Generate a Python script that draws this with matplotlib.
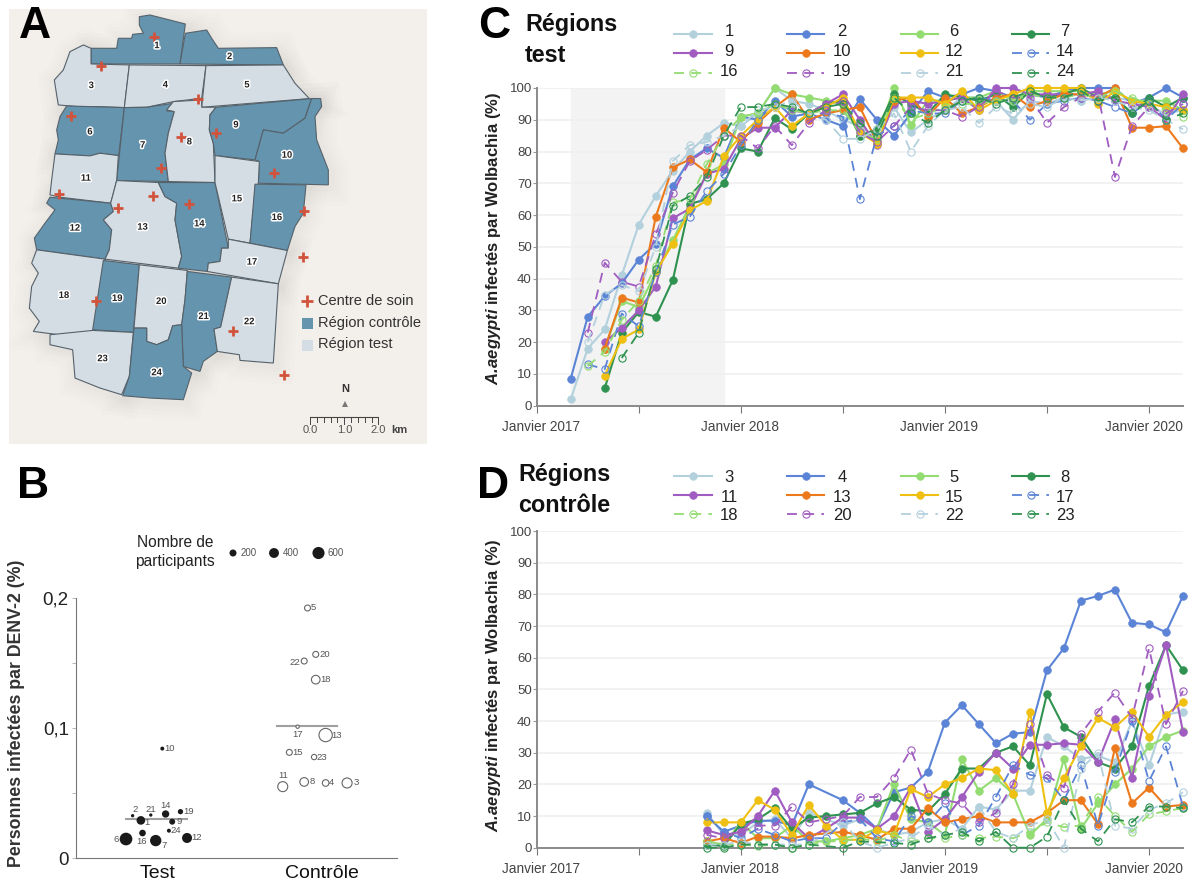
"""Figure 4 panneaux : carte, participants DENV-2, Wolbachia test / controle"""

import numpy as np
import matplotlib
matplotlib.use('Agg')
import matplotlib.pyplot as plt
from matplotlib.patches import Polygon, Rectangle
from matplotlib.transforms import ScaledTranslation
import matplotlib.patheffects as pe

plt.rcParams['font.family'] = ['Liberation Sans', 'DejaVu Sans']
plt.rcParams['mathtext.fontset'] = 'custom'
plt.rcParams['mathtext.bfit'] = 'Liberation Sans:italic:bold'
plt.rcParams['mathtext.rm'] = 'Liberation Sans'

W, H = 1190, 882

# ---- Panneau A : regions de la carte (contours)
region_shapes = {
    1: [(418, 50), (450, 45), (556, 72), (540, 192), (273, 192), (273, 145), (350, 145), (355, 115), (395, 115),
        (398, 103), (430, 100), (418, 75)],
    2: [(556, 100), (620, 90), (635, 115), (655, 145), (830, 143), (850, 195), (540, 192)],
    3: [(250, 135), (273, 145), (273, 192), (388, 195), (373, 323), (290, 320), (230, 320), (175, 315), (170, 285),
        (163, 240), (190, 210), (210, 155)],
    4: [(388, 195), (618, 197), (605, 295), (520, 305), (440, 322), (373, 323)],
    5: [(618, 197), (850, 195), (885, 250), (928, 296), (605, 322)],
    6: [(200, 318), (373, 323), (356, 467), (300, 460), (270, 468), (165, 462), (175, 420), (170, 390), (180, 350)],
    7: [(373, 323), (440, 322), (520, 310), (500, 333), (523, 335), (505, 400), (495, 460), (505, 545), (350, 542)],
    8: [(520, 305), (605, 300), (605, 322), (648, 322), (630, 345), (628, 390), (640, 430), (645, 548), (505, 545),
        (495, 460), (505, 400), (523, 335), (500, 330)],
    9: [(648, 322), (935, 296), (915, 355), (850, 400), (790, 390), (765, 480), (645, 467), (640, 430), (628, 390),
        (630, 345)],
    10: [(935, 296), (962, 296), (965, 320), (945, 350), (950, 420), (985, 510), (985, 555), (775, 550), (778, 485),
         (765, 480), (790, 390), (850, 400), (915, 355)],
    11: [(165, 462), (270, 468), (300, 460), (355, 467), (350, 542), (332, 610), (180, 592), (150, 585), (155, 540)],
    12: [(150, 592), (332, 610), (340, 635), (310, 660), (335, 690), (328, 750), (315, 778), (110, 750), (103, 715),
         (135, 670), (165, 630), (140, 610)],
    13: [(350, 542), (475, 548), (495, 590), (530, 610), (525, 660), (545, 770), (535, 805), (315, 778), (328, 750),
         (335, 690), (310, 660), (340, 635), (332, 610)],
    14: [(475, 548), (645, 548), (685, 745), (665, 745), (660, 785), (625, 790), (622, 815), (535, 805), (545, 770),
         (525, 660), (530, 610), (495, 590)],
    15: [(645, 467), (778, 485), (775, 550), (765, 580), (750, 730), (685, 718), (645, 548)],
    16: [(765, 553), (918, 555), (910, 640), (885, 680), (862, 752), (750, 730)],
    17: [(685, 718), (862, 752), (835, 852), (622, 815), (625, 790), (660, 785), (665, 745), (685, 745)],
    18: [(110, 750), (315, 778), (278, 1005), (200, 1008), (100, 995), (118, 965), (88, 925), (95, 860), (115, 820),
         (95, 790)],
    19: [(310, 782), (418, 795), (400, 998), (278, 990)],
    20: [(418, 795), (562, 812), (555, 900), (545, 975), (518, 978), (505, 1020), (470, 1035), (440, 1025), (440, 985),
         (402, 985)],
    21: [(562, 815), (695, 832), (662, 982), (642, 988), (652, 1055), (610, 1085), (600, 1115), (550, 1100), (545, 975),
         (555, 900)],
    22: [(695, 832), (835, 852), (820, 1090), (720, 1082), (718, 1065), (652, 1055), (642, 988), (662, 982)],
    23: [(150, 1005), (278, 992), (400, 998), (388, 1130), (365, 1185), (300, 1165), (225, 1135), (218, 1050),
         (150, 1035)],
    24: [(402, 985), (440, 985), (440, 1025), (470, 1035), (505, 1020), (518, 978), (545, 975), (550, 1100), (575, 1120),
         (550, 1200), (450, 1195), (368, 1188), (388, 1130)],
}
dark_regions = [1, 2, 6, 7, 9, 10, 12, 14, 16, 19, 21, 24]
region_label_xy = {1: (471, 137), 2: (689, 170), 3: (274, 257), 4: (496, 255), 5: (741, 255), 6: (270, 396),
                   7: (428, 436), 8: (568, 426), 9: (708, 375), 10: (861, 466), 11: (258, 535), 12: (225, 685),
                   13: (428, 682), 14: (598, 672), 15: (711, 597), 16: (831, 653), 17: (756, 787), 18: (192, 887),
                   19: (352, 896), 20: (484, 905), 21: (611, 950), 22: (748, 966), 23: (308, 1077), 24: (470, 1119)}
care_x = [463, 304, 593, 213, 648, 543, 483, 823, 178, 459, 566, 354, 912, 910, 287, 700, 852]
care_y = [112, 199, 298, 349, 398, 410, 503, 520, 583, 587, 613, 625, 633, 773, 904, 995, 1126]

# ---- Panneau B : pourcentage DENV-2 et participants
test_regions = [10, 2, 21, 14, 19, 1, 9, 24, 16, 6, 7, 12]
test_x = [0.03, -0.15, -0.04, 0.05, 0.14, -0.10, 0.09, 0.07, -0.09, -0.19, -0.01, 0.18]
test_denv = [0.0842, 0.0327, 0.0332, 0.0340, 0.0358, 0.0291, 0.0281, 0.0212, 0.0194, 0.0148, 0.0136, 0.0156]
test_n = [65, 45, 45, 220, 115, 305, 145, 65, 180, 655, 525, 410]
ctrl_regions = [5, 20, 22, 18, 17, 13, 15, 23, 11, 8, 4, 3]
ctrl_x = [0.91, 0.96, 0.89, 0.96, 0.85, 1.02, 0.80, 0.95, 0.76, 0.89, 1.02, 1.15]
ctrl_denv = [0.1921, 0.1565, 0.1514, 0.1371, 0.1010, 0.0946, 0.0813, 0.0777, 0.0550, 0.0586, 0.0578, 0.0578]
ctrl_n = [145, 145, 145, 305, 45, 725, 145, 115, 410, 305, 180, 410]
test_median = 0.0302
ctrl_median = 0.1018
legend_n = [200, 400, 600]

# ---- Panneaux C et D : mois depuis janvier 2017
months_c = list(range(2, 39))
months_d = list(range(10, 39))
N = None

test_series = {
    1: [2, 18, 24, 41, 57, 66, 74, 80, 85, 89, 88, 92, 100, 96, 95, 93, 90, 88, 84, 94, 86, 90, 93, 97, 97, 96, 90, 96,
        95, 97, 96, 97, 97, 96, 94, 92, 93],
    2: [8.5, 28, 34.5, 38.5, 46, 51, 69, 77.5, 81, 78, 91, 90, 96, 91, 92, 90, 88, 96.5, 90, 85, 92, 99, 97, 98, 100,
        99, 97, 98, 97, 99, 100, 100, 100, 95, 97, 100, 97],
    6: [N, N, 18, 33, 31, 42, 52, 63, 73, 76, 91, 92, 100, 98, 97, 96, 95, 85, 84, 100, 88.5, 96, 96, 97, 97, 99, 96,
        99, 99, 99, 99, 98, 99, 96, 96, 96, 93],
    7: [N, N, 5.5, 23, 29.5, 28, 39.5, 63.5, 65, 70, 81, 80, 90.5, 87, 92, 95, 96, 85, 87, 98, 95, 92, 98, 97, 96, 98,
        94, 99, 97, 98, 100, 97, 97, 92, 97, 94, 97],
    9: [N, N, 20, 24.5, 30, 37.5, 59, 62, 73, 74.5, 84, 87.5, 87.5, 93, 92, 95, 98, 90, 82, 95, 96, 95, 96, 97, 93, 100,
        100, 98, 98, 98, 98, 99, 96, 95, 94, 90, 98],
    10: [N, N, 18, 34, 32.5, 59.5, 75, 77.5, 73.5, 87.5, 83, 89, 94, 98, 90, 92, 93, 94, 83, 96, 97, 91, 97, 92, 94, 97,
         98, 94, 96, 98, 98, 97, 100, 87.5, 87.5, 88, 81],
    12: [N, N, 9.5, 21, 24, 42, 51, 61.5, 64.5, 78.5, 85, 90, 94, 88, 92, 94, 97, 86, 82.5, 97, 97, 97, 95, 99, 93, 96,
         98, 100, 100, 100, 100, 95, 99, 96, 95, 94, 93],
    14: [N, 13, 11.5, 29, 25, 42, 57, 59.5, 67.5, 73, 82, 90, 95, 93, 92, 92, 91, 65, 85, 88, 93, 92, 92, 96, 97, 96,
         96, 90, 95, 96, 97, 96, 94, 92, 96, 90, 95],
    16: [N, 12.5, 17, 27, 33, 44, 64, 65, 76, 85, 91, 92, 95, 93, 92, 93, 93, 86, 84, 97, 90, 92, 94, 95, 95, 96, 96,
         98, 97, 97, 98, 97, 99, 97, 95, 93, 91],
    19: [N, 23, 45, 39, 37.5, 54, 67, 77, 80.5, 85, 85, 81, 88, 82, 89, 93, 96, 86, 83, 88, 94, 93, 93, 91, 94, 99, 97,
         97, 89, 94, 97, 98, 72, 88, 94, 92, 95],
    21: [N, 20, 35, 38, 36, 50, 77, 82, 83, 85, 88, 93, 94, 96, 92, 90, 84, 84, 87, 92, 80, 88, 93, 94, 89, 94, 92, 95,
         94, 97, 96, 97, 96, 94, 93, 90, 87],
    24: [N, N, N, 15, 23, 43, 63, 66, 72, 85, 94, 94, 95, 94, 92, 94, 95, 89, 85, 97, 92, 89, 93, 96, 97, 95, 97, 99,
         97, 97, 99, 96, 97, 92, 96, 90, 92],
}
ctrl_series = {
    3: [11, 4, 4, 8, 9, 3, 11, N, 7, 9, 6, 4, 5, 8, 9, 6, 13, 12, 18, 18, 35, 32, 28, 29, 27, 40, 26, 42, 43],
    4: [10, 5, 7, 8.5, 8.5, 7, 20, N, 15, 11, 6, 17.5, 19, 24, 39.5, 45, 39, 33, 36, 36.5, 56, 63, 78, 79.5, 81.5, 71,
        70.5, 68, 79.5],
    5: [2, 1, 8, 3, 3, 7, 2, 2, 3, 4, 6, 20, 9, 8, 4, 28, 18, 22, 17, 4, 9, 28, 6, 14, 20, 25, 32, 35, 37],
    8: [1, 0.5, 7.5, 9, 12.5, 6, 9.5, 10, 10.5, 11, 14, 16, 12, 11.5, 17, 25, 25, 30, 32, 26, 48.5, 38, 35, 27, 25, 32,
        51, 64, 56],
    11: [5.5, 4, 5, 10, 18, 8, 3, 6, 9.5, 9.5, 6, 10, 19, 5, 9, 16, 24, 30, 25, 32.5, 32.5, 33, 32.5, 27, 40.5, 22, 48,
         64, 36.5],
    13: [2, 3, 1.5, 3.5, 3.5, 3, 4, N, 5, 4, 2.5, 6, 6, 12.5, 8, 9, 10, 8, 8, 8, 11, 15, 15, 7.5, 31.5, 14, 19, 13, 13.5],
    15: [8, 8, 8, 15, 12, 4, 13.5, 7, 2.5, 2.5, 5.5, 4, 18.5, 16, 20, 22, 25, 24.5, 17, 43, 11, 22, 32, 41, 38, 43, 35,
         42, 46],
    17: [10, 5, 3, 6, 4, 2, 3, 3, 8, 9, 3, 2, 10, 8, 14, 4, 7, 16, 26, 23, 22, 15, 26, 7, 24, 40, 21, 32, 13],
    18: [2, 1, 1, 0.5, 1, 0, 1, 2, 2, 3, 2, 4, 2, 3, 3, 4, 3, 3.5, 3, 5, 8, 6.5, 7, 16, 10, 5, 10.5, 11.5, 12.5],
    20: [4, 3, 5, 7, 7, 13, 8, 9, 10, 16, 16, 22, 31, 17, 15, 14, 8, 11, 20, 39, 23, 19, 36, 43, 49, 41, 63, 39, 49.5],
    22: [1, 1, 2, 1, 1, 1, 1, N, 8, 2, 0, 1.5, 3, 7, 4, 6, 13, 5, 3, 7, 9, 0, 25, 30, 7, 6, 12, 14, 17.5],
    23: [0, 0, 1, 1, 1, 0, 1, N, 0, 2, N, 1.5, 1, 3, 4, 5, 2, 5, 0, 0, 3.5, 15, 6, 2, 9, 8, 13, 13, 12.5],
}
year_labels = ['Janvier 2017', 'Janvier 2018', 'Janvier 2019', 'Janvier 2020']

light_blue = '#b3d0dd'
blue = '#5b84d6'
light_green = '#93dc72'
dark_green = '#2f9250'
purple = '#a05cc0'
orange = '#ec7a1c'
yellow = '#efc011'
palette = [light_blue, blue, light_green, dark_green, purple, orange, yellow, blue, light_green, purple, light_blue,
           dark_green]
dashed_from = 7  # les 5 dernieres series sont en tirets


def axes_px(x0, y0, x1, y1, **kw):
    """Axes placee en pixels de l'image (origine en haut a gauche)"""
    return fig.add_axes([x0 / W, 1 - y1 / H, (x1 - x0) / W, (y1 - y0) / H], **kw)


def style_kw(i):
    c = palette[i]
    if i >= dashed_from:
        return dict(color=c, linestyle=(0, (5.5, 4)), linewidth=1.3, marker='o', markersize=5.2,
                    markerfacecolor='none', markeredgewidth=0.8)
    return dict(color=c, linestyle='-', linewidth=1.5, marker='o', markersize=5.6, markeredgewidth=0.4)


fig = plt.figure(figsize=(W / 100, H / 100), dpi=100, facecolor='white')

# ---------------- A
axA = axes_px(9, 9, 427, 444)
axA.set_xlim(27, 1281)
axA.set_ylim(1333, 27)
axA.axis('off')
axA.add_patch(Rectangle((27, 27), 1254, 1306, facecolor='#f3efeb', edgecolor='none'))
for lw in (26, 20, 14, 9, 5):
    for pts in region_shapes.values():
        shifted = [(x + 8, y + 8) for x, y in pts]
        axA.add_patch(Polygon(shifted, facecolor='none', edgecolor='#6e6a66', linewidth=lw, alpha=0.012))
for reg, pts in region_shapes.items():
    color = '#6594ae' if reg in dark_regions else '#d4dce4'
    axA.add_patch(Polygon(pts, facecolor=color, edgecolor='#55626b', linewidth=0.8))
for reg, (x, y) in region_label_xy.items():
    axA.text(x, y, str(reg), ha='center', va='center', fontsize=6.8, fontweight='bold', color='#222222',
             path_effects=[pe.withStroke(linewidth=2.2, foreground='white')])
axA.plot(care_x, care_y, linestyle='none', marker='+', markersize=7, color='#d2533c', markeredgewidth=2)
axA.plot([922], [904], linestyle='none', marker='+', markersize=8, color='#d2533c', markeredgewidth=2)
axA.add_patch(Rectangle((906, 954), 33, 33, facecolor='#6594ae'))
axA.add_patch(Rectangle((906, 1020), 33, 33, facecolor='#d4dce4'))
for y, txt in zip([904, 970, 1034], ['Centre de soin', 'Région contrôle', 'Région test']):
    axA.text(955, y, txt, va='center', fontsize=10.5, color='#333333')
# echelle
axA.plot([930, 1135], [1252, 1252], color='#444444', linewidth=0.8)
for i, x in enumerate(np.arange(930, 1136, 20.5)):
    axA.plot([x, x], [1252, 1272 if i % 5 == 0 else 1266], color='#444444', linewidth=0.7)
for x, txt in zip([932, 1034, 1135], ['0.0', '1.0', '2.0']):
    axA.text(x, 1291, txt, ha='center', va='center', fontsize=8, color='#555555')
axA.text(1199, 1291, 'km', ha='center', va='center', fontsize=8, fontweight='bold', color='#444444')
axA.text(1036, 1168, 'N', ha='center', va='center', fontsize=8, fontweight='bold', color='#333333')
axA.plot([1036], [1212], marker='^', markersize=5, color='#777777', markeredgewidth=0)

# ---------------- B (x : 0 = Test, 1 = Controle)
axB = axes_px(75.7, 597.7, 397, 858.3)
axB.set_ylim(0, 0.2)
axB.set_xlim((227 - 472) / 495, (1191 - 472) / 495)
axB.patch.set_alpha(0)
for s in ('top', 'right'):
    axB.spines[s].set_visible(False)
for s in ('left', 'bottom'):
    axB.spines[s].set_color('#777777')
    axB.spines[s].set_linewidth(0.8)
axB.set_yticks([0, 0.05, 0.1, 0.15, 0.2], ['0', '', '0,1', '', '0,2'], fontsize=13.5, color='#222222')
axB.set_xticks([0, 1], ['Test', 'Contrôle'], fontsize=14, color='#111111')
axB.tick_params(axis='x', length=0, pad=5)
axB.tick_params(axis='y', length=3, width=0.6, color='#aaaaaa', pad=2)
axB.set_ylabel('Personnes infectées par DENV-2 (%)', fontsize=12.8, fontweight='bold', color='#333333', labelpad=0)
axB.yaxis.set_label_coords(-0.158, 0.557)
axB.plot([-0.19, 0.178], [test_median, test_median], color='#a0a0a0', linewidth=1.5, zorder=1)
axB.plot([0.723, 1.09], [ctrl_median, ctrl_median], color='#a0a0a0', linewidth=1.5, zorder=1)
axB.scatter(test_x, test_denv, s=np.array(test_n) * 0.127, color='#1a1a1a', zorder=3, linewidths=0)
axB.scatter(ctrl_x, ctrl_denv, s=np.array(ctrl_n) * 0.127, facecolor='white', edgecolor='#666666', linewidths=0.8,
            zorder=3)
test_off = {10: (7, 0), 2: (3, 6), 21: (0, 6), 14: (0, 8), 19: (8, 0), 1: (6, -2), 9: (7, 0), 24: (7, 0), 16: (-1, -8),
            6: (-10, 0), 7: (8, -5), 12: (10, 0)}
ctrl_off = {5: (6, 0), 20: (9, 0), 22: (-9, -1), 18: (10, 0), 17: (0, -8), 13: (11, 0), 15: (8, 0), 23: (8, 0),
            11: (0, 11), 8: (8, 0), 4: (6, 0), 3: (9, 0)}
for regs, xs, ys, off in [(test_regions, test_x, test_denv, test_off), (ctrl_regions, ctrl_x, ctrl_denv, ctrl_off)]:
    for reg, x, y in zip(regs, xs, ys):
        axB.annotate(str(reg), (x, y), xytext=off[reg], textcoords='offset pixels', ha='center', va='center',
                     fontsize=6.8, color='#555555', zorder=4)

# ---------------- C et D
for series, months, box, band, label_y in [
    (test_series, months_c, (536.7, 88, 1183, 405.7), True, 0.525),
    (ctrl_series, months_d, (536.7, 531, 1183, 847.7), False, 0.513),
]:
    ax = axes_px(*box)
    ax.set_xlim(0, 38)
    ax.set_ylim(0, 100)
    ax.patch.set_alpha(0)
    for s in ('top', 'right'):
        ax.spines[s].set_visible(False)
    for s in ('left', 'bottom'):
        ax.spines[s].set_color('#8a8a8a')
        ax.spines[s].set_linewidth(1.4)
    if band:
        ax.axvspan(2, 11, color='#f3f3f3', zorder=0)
    ax.grid(axis='y', color='#f0f0f0', linewidth=1.2, zorder=0)
    ax.set_axisbelow(True)
    ax.set_yticks(range(0, 101, 10))
    ax.tick_params(axis='y', length=3, width=0.8, color='#999999', labelsize=9.5, labelcolor='#444444', pad=0.5)
    ax.set_xticks(range(0, 37, 6), [year_labels[0], '', year_labels[1], '', year_labels[2], '', year_labels[3]])
    ax.tick_params(axis='x', length=5, width=0.8, color='#777777', labelsize=9.8, labelcolor='#444444', pad=5)
    shifts = {0: 4, 2: -1, 4: -6, 6: -5}
    for k, lab in enumerate(ax.get_xticklabels()):
        if k in shifts:
            lab.set_transform(lab.get_transform() + ScaledTranslation(shifts[k] / 100, 0, fig.dpi_scale_trans))
    ax.set_ylabel(r'$\mathbfit{A.\!aegypti}$ infectés par Wolbachia (%)', fontsize=12, fontweight='bold',
                  color='#222222')
    ax.yaxis.set_label_coords(-0.052, label_y)
    for i, (reg, vals) in enumerate(series.items()):
        xs = [m for m, v in zip(months, vals) if v is not None]
        ys = [v for v in vals if v is not None]
        ax.plot(xs, ys, clip_on=False, zorder=3 + i * 0.1, **style_kw(i))

# ---------------- Couche de textes et legendes en pixels
ov = fig.add_axes([0, 0, 1, 1])
ov.set_xlim(0, W)
ov.set_ylim(H, 0)
ov.axis('off')
ov.patch.set_alpha(0)

for txt, x, y in [('A', 35, 27), ('B', 33, 487), ('C', 494, 26), ('D', 493, 487)]:
    ov.text(x, y, txt, ha='center', va='center', fontsize=32, fontweight='bold', color='black')
ov.text(525, 25, 'Régions', va='center', fontsize=16.8, fontweight='bold', color='#111111')
ov.text(525, 55, 'test', va='center', fontsize=16.8, fontweight='bold', color='#111111')
ov.text(518, 475, 'Régions', va='center', fontsize=16.8, fontweight='bold', color='#111111')
ov.text(518, 505, 'contrôle', va='center', fontsize=16.8, fontweight='bold', color='#111111')

# legende B
ov.text(175, 552, 'Nombre de\nparticipants', ha='center', va='center', fontsize=11.2, color='#222222', linespacing=1.3)
ov.scatter([233, 274, 318.5], [553, 553, 553], s=np.array(legend_n) * 0.127, color='#1a1a1a', linewidths=0)
for x, n in zip([248.5, 291, 336], legend_n):
    ov.text(x, 553, str(n), ha='center', va='center', fontsize=7, color='#555555')

# legendes C et D : 4 colonnes, 3 lignes, remplies ligne par ligne
col_line = [(674, 712), (787, 824), (901, 938), (1012, 1049)]
col_text = [729, 842, 954, 1065]
for series, rows, text_rows in [(test_series, [34, 53, 73], [32, 51, 71]),
                                (ctrl_series, [476, 495, 514], [477, 497, 516])]:
    for i, reg in enumerate(series):
        r, c = i // 4, i % 4
        x0, x1 = col_line[c]
        y = rows[r]
        ov.plot([x0, (x0 + x1) / 2, x1], [y, y, y], markevery=[1], **style_kw(i))
        ov.text(col_text[c], text_rows[r], str(reg), ha='center', va='center', fontsize=12, color='#222222')

fig.savefig('out.png', dpi=100)
